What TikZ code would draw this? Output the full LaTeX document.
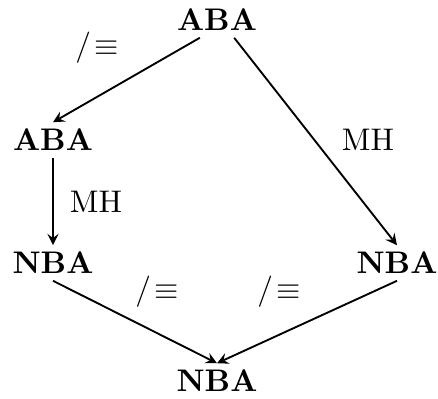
\documentclass[tikz,border=0pt]{standalone}
\usepackage{amsmath,amssymb}
\usepackage{tikz}
\usetikzlibrary{arrows,positioning}

\begin{document}
\begin{tikzpicture}[x=0.32pt,y=-0.32pt,>=stealth]
    \useasboundingbox (0,0) rectangle (438,398);
    \tikzset{alg/.style={font=\bfseries, inner sep=2pt},
             lbl/.style={inner sep=1pt},
             arr/.style={->, semithick}}
    \node[alg] (top) at (217,20) {ABA};
    \node[alg] (aba) at (53,140) {ABA};
    \node[alg] (nbaL) at (53,263) {NBA};
    \node[alg] (nbaR) at (397,263) {NBA};
    \node[alg] (bot) at (217,381) {NBA};
    \draw[arr] ([xshift=-5.5pt]top.south) -- (aba.north);
    \draw[arr] ([xshift=5.5pt]top.south) -- (nbaR.north);
    \draw[arr] (aba) -- (nbaL);
    \draw[arr] (nbaL.south) -- (bot.north);
    \draw[arr] (nbaR.south) -- (bot.north);
    \node[lbl] (l1) at (97,48) {$/\!\equiv$};
    \node[lbl] (l2) at (368,140) {MH};
    \node[lbl] (l3) at (96,202) {MH};
    \node[lbl] (l4) at (157,292) {$/\!\equiv$};
    \node[lbl] (l5) at (279,292) {$/\!\equiv$};
\end{tikzpicture}
\end{document}
